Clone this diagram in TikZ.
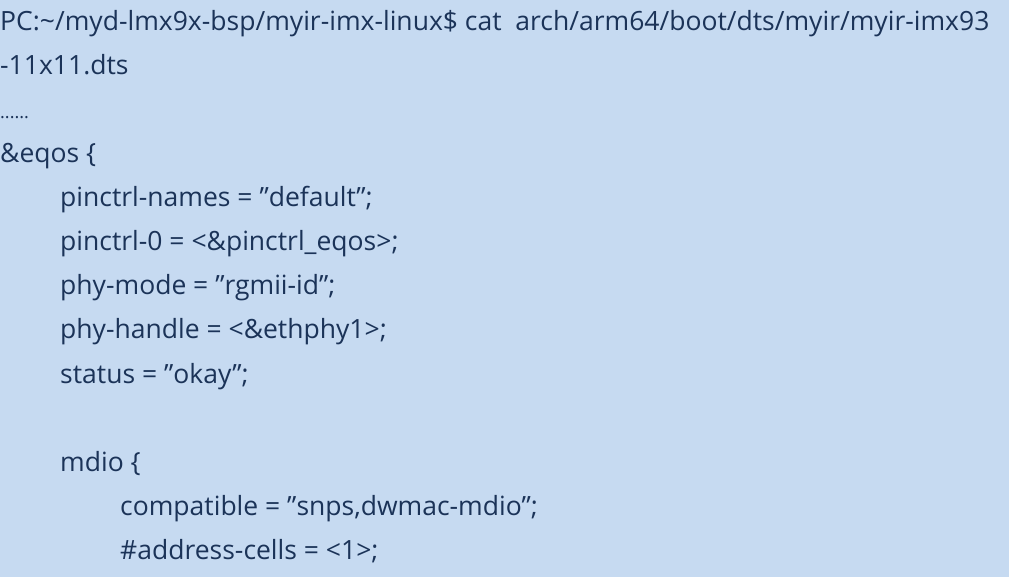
\documentclass[tikz,border=0pt]{standalone}
\usepackage{fontspec}
\setmainfont{Open Sans}
\defaultfontfeatures{Ligatures=NoCommon}
\definecolor{bg}{HTML}{C6DAF1}
\definecolor{tx}{HTML}{1B3358}
\newcommand{\q}{\symbol{34}}
\begin{document}
\begin{tikzpicture}[x=1pt,y=-1pt,
  t/.style={anchor=base west,inner sep=0pt,text=tx,font=\fontsize{26.5}{30}\selectfont}]
\useasboundingbox (0,0) rectangle (1023,577);
\fill[bg] (0,0) rectangle (1009,577);
\node[t] (l1) at (0,31) {PC:\textasciitilde/myd-lmx9x-bsp/myir-imx-linux\$ cat\ \ arch/arm64/boot/dts/myir/myir-imx93};
\node[t] (l2) at (0,75) {-11x11.dts};
\node[t] (l3) at (0,119) {\fontsize{18}{20}\selectfont ......};
\node[t] (l4) at (0,163) {\&eqos \{};
\node[t] (l5) at (60,207) {pinctrl-names = \q default\q;};
\node[t] (l6) at (60,251) {pinctrl-0 = <\&pinctrl\_eqos>;};
\node[t] (l7) at (60,295) {phy-mode = \q rgmii-id\q;};
\node[t] (l8) at (60,339) {phy-handle = <\&ethphy1>;};
\node[t] (l9) at (60,383) {status = \q okay\q;};
\node[t] (l10) at (60,471) {mdio \{};
\node[t] (l11) at (120,515) {compatible = \q snps,dwmac-mdio\q;};
\node[t] (l12) at (120,559) {\#address-cells = <1>;};
\end{tikzpicture}
\end{document}
